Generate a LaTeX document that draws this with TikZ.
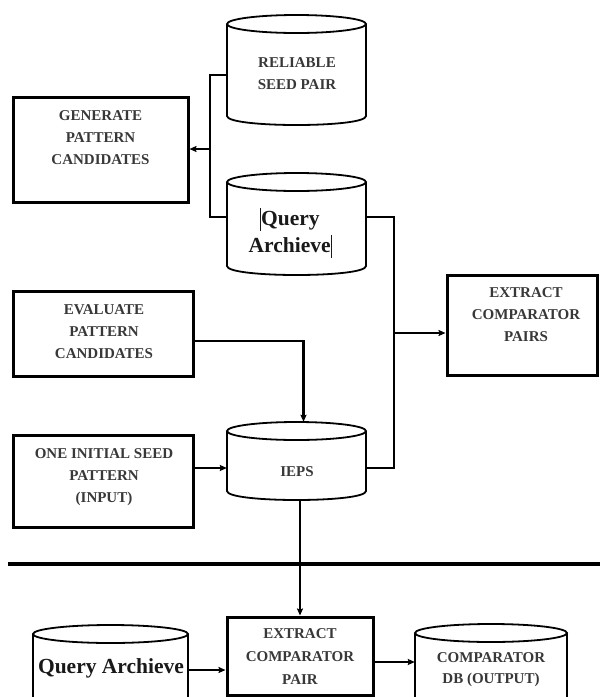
\documentclass[tikz,border=0pt]{standalone}
\usepackage{fontspec}
\setmainfont{Liberation Serif}
\usetikzlibrary{arrows.meta}
\newcommand\dbcyl[5]{%
 \pgfmathsetmacro\cylcx{(#2+#3)/2}%
 \pgfmathsetmacro\cylcy{(#4+#5)/2}%
 \pgfmathsetmacro\cylrx{(#3-#2)/2}%
 \pgfmathsetmacro\cylw{#3-#2}%
 \pgfmathsetmacro\cylh{#5-#4}%
 \node[inner sep=0, minimum width=\cylw, minimum height=\cylh] (#1) at (\cylcx,\cylcy) {};
 \draw[cylline] (#2,#4+9) -- (#2,#5-9) .. controls (#2,#5+3) and (#3,#5+3) .. (#3,#5-9) -- (#3,#4+9);
 \draw[cylline] (\cylcx,#4+9) ellipse [x radius=\cylrx, y radius=9];
}
\begin{document}
\begin{tikzpicture}[x=1pt,y=-1pt,
  boxstyle/.style={draw=black, line width=3pt, inner sep=0},
  lbl/.style={font=\bfseries\fontsize{15}{22}\selectfont, text=black!78, align=center, inner sep=0},
  biglbl/.style={font=\bfseries\fontsize{21.5}{27}\selectfont, text=black!90, align=center, inner sep=0},
  cylline/.style={line width=1.8pt},
  conn/.style={line width=2.5pt},
  arr/.style={conn, -{Stealth[length=7pt,width=6pt,inset=1pt]}},
  sepline/.style={line width=3.2pt}]
\useasboundingbox (0,0) rectangle (600,697);
\clip (0,0) rectangle (600,697);
\fill[white] (0,0) rectangle (600,697);

% boxes
\node[boxstyle, minimum width=175, minimum height=105] (gen) at (100.5,149.5) {};
\node[boxstyle, minimum width=180, minimum height=85] (eval) at (103,333.5) {};
\node[boxstyle, minimum width=180, minimum height=92] (init) at (103,481) {};
\node[boxstyle, minimum width=150, minimum height=100] (ext) at (522,325) {};
\node[boxstyle, minimum width=146, minimum height=78] (cp) at (300,656) {};

% cylinders
\dbcyl{seed}{227}{366}{15}{125}
\dbcyl{qa}{227}{366}{173}{275}
\dbcyl{ieps}{227}{366}{422}{500}
\dbcyl{qab}{33}{188}{625}{712}
\dbcyl{db}{415}{567}{624}{712}

% labels
\node[lbl] (gen-t) at (100.5,137.5) {GENERATE\\PATTERN\\CANDIDATES};
\node[lbl] (eval-t) at (104,332) {EVALUATE\\PATTERN\\CANDIDATES};
\node[lbl] (init-t) at (104,477) {ONE INITIAL SEED\\PATTERN\\(INPUT)};
\node[lbl] (ext-t) at (526,315) {EXTRACT\\COMPARATOR\\PAIRS};
\node[lbl] (seed-t) at (297,74) {RELIABLE\\SEED PAIR};
\node[biglbl] (qa-t) at (290,233) {\rule[-0.25em]{0.8pt}{1.05em}Query\\Archieve\rule[-0.25em]{0.8pt}{1.05em}};
\node[lbl] (ieps-t) at (297,472) {IEPS};
\node[lbl, font=\bfseries\fontsize{15}{23}\selectfont] (cp-t) at (300,657) {EXTRACT\\COMPARATOR\\PAIR};
\node[biglbl] (qab-t) at (111,668) {Query Archieve};
\node[lbl, font=\bfseries\fontsize{15}{21}\selectfont] (db-t) at (491,670) {COMPARATOR\\DB (OUTPUT)};

% connectors
\coordinate (j1) at (210,149);
\draw[conn] ([yshift=-5pt]seed.west) -| (j1) |- ([yshift=7pt]qa.west);
\draw[arr] (j1) -- (gen.east |- j1);

\coordinate (j2) at (394,333);
\draw[conn] ([yshift=7pt]qa.east) -| (j2) |- ([yshift=-7pt]ieps.east);
\draw[arr] (j2) -- (ext.west |- j2);

\path ([yshift=-7.5pt]eval.east) coordinate (e1);
\draw[arr] (e1) -| ([xshift=7pt]ieps.north);

\path ([yshift=-7pt]ieps.west) coordinate (iw);
\draw[arr] (init.east |- iw) -- (iw);

\draw[arr] (ieps.south -| cp.north) -- (cp.north);

\draw[sepline] (8,564) -- (600,564);

\path ([yshift=-14pt]cp.west) coordinate (c1);
\draw[arr] (c1 -| qab.east) -- (c1);
\path ([yshift=-6pt]cp.east) coordinate (c2);
\draw[arr] (c2) -- (c2 -| db.west);
\end{tikzpicture}
\end{document}
